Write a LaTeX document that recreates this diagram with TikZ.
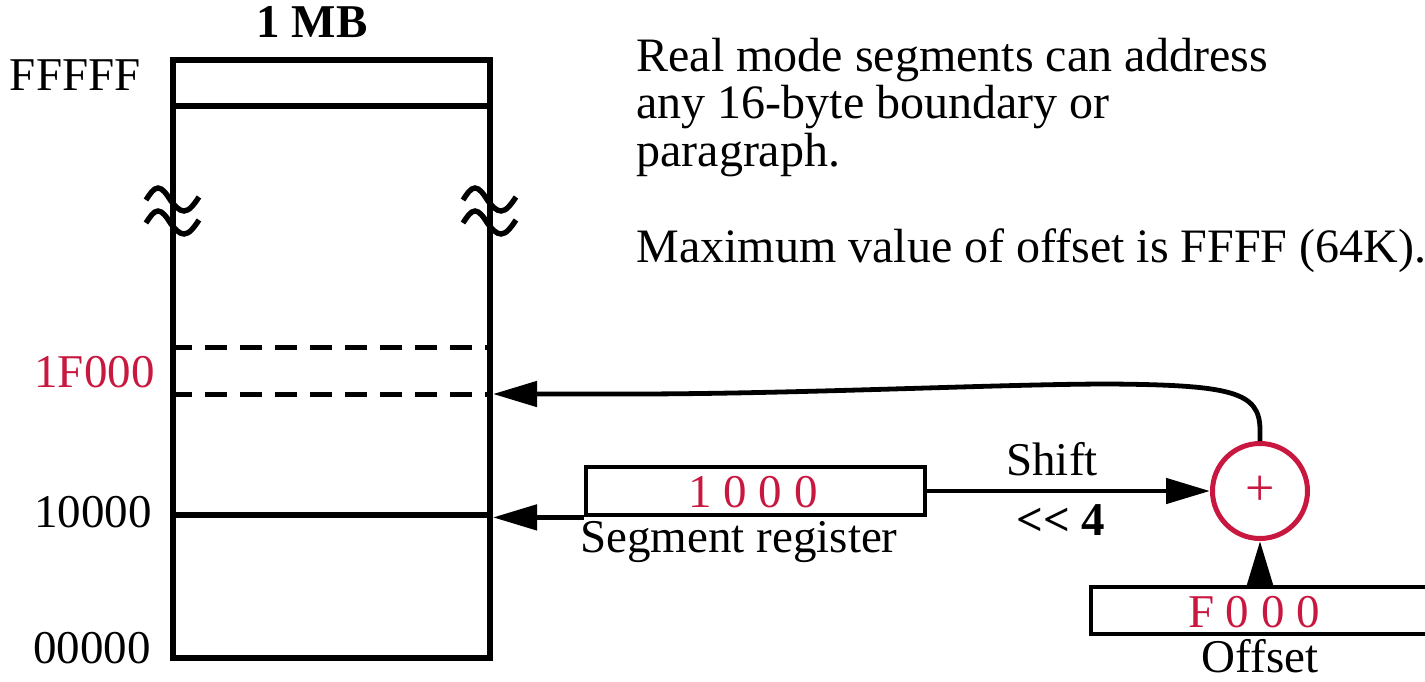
\documentclass[tikz,border=0pt]{standalone}
\usepackage{fontspec}
\setmainfont{Liberation Serif}
\usetikzlibrary{arrows.meta}
\definecolor{crim}{RGB}{200,24,64}
\begin{document}
\begin{tikzpicture}[x=0.5pt,y=-0.5pt,line width=2.4pt,
  tip/.style={-{Triangle[length=22pt,width=12.5pt]}},
  txt/.style={font=\fontsize{23.5}{23.75}\selectfont,inner sep=0pt},
  big/.style={font=\fontsize{24}{24}\selectfont,inner sep=0pt},
  red/.style={txt,text=crim},
  box/.style={draw,inner sep=0pt},
  brk/.style={line width=2.7pt},
  dsh/.style={line width=2.5pt,dash pattern=on 11pt off 6.5pt}]
\useasboundingbox (0,0) rectangle (1425,681);

% memory block
\node[box,line width=3pt,minimum width=158.5pt,minimum height=299pt] (mem) at (331.5,359) {};
\draw[line width=3pt] (mem.west |- 0,106) -- (mem.east |- 0,106);
\draw[dsh] (mem.west |- 0,347) -- (mem.east |- 0,347);
\draw[dsh] (mem.west |- 0,394) -- (mem.east |- 0,394);
\draw[line width=3pt] (mem.west |- 0,515) -- (mem.east |- 0,515);
\foreach \xx in {173,490}{
  \foreach \yy in {0,23}{
    \draw[brk] (\xx-27,200+\yy) sin (\xx-15,188+\yy) cos (\xx-2,201+\yy) sin (\xx+11,211+\yy) cos (\xx+26,197+\yy);
  }
}

% labels
\node[txt,font=\fontsize{23.5}{23.75}\selectfont\bfseries,anchor=base] (mb) at (312,37) {1 MB};
\node[txt,anchor=base east] (lf) at (143,90) {FFFFF};
\node[red,anchor=base east] (l1f) at (157,387) {1F000};
\node[txt,anchor=base east] (l10) at (154,527) {10000};
\node[txt,anchor=base east] (l00) at (153,663) {00000};

% explanation text
\node[big,anchor=base west] (t1) at (634,71) {Real mode segments can address};
\node[big,anchor=base west] (t2) at (634,118) {any 16-byte boundary or};
\node[big,anchor=base west] (t3) at (634,166) {paragraph.};
\node[big,anchor=base west] (t4) at (634,262) {Maximum value of offset is FFFF (64K).};

% segment register
\node[box,minimum width=169.5pt,minimum height=24pt] (seg) at (755.5,491) {};
\node[red,anchor=base] (segv) at (753,507) {1 0 0 0};
\node[txt,anchor=base] (segl) at (739,552) {Segment register};

% adder
\node[draw=crim,circle,line width=2.5pt,minimum size=47.5pt,inner sep=0pt,
      text=crim,font=\fontsize{26}{26}\selectfont] (add) at (1260,491) {+};

% offset
\node[box,minimum width=171pt,minimum height=23.5pt] (off) at (1262,610.5) {};
\node[red,anchor=base] (offv) at (1254,627) {F 0 0 0};
\node[txt,anchor=base] (offl) at (1260,672) {Offset};

% connectors
\draw[tip] (seg.east) -- (add.west);
\node[txt,anchor=base] (sh) at (1052,475) {Shift};
\node[txt,font=\fontsize{23.5}{23.75}\selectfont\bfseries,anchor=base] (sh4) at (1061,535) {{<}{<} 4};
\draw[tip] (seg.south west) -- (seg.south west -| mem.east);
\draw[tip] (add.south |- off.north) -- (add.south);
\draw[tip] (add.north) -- (1260,430) .. controls (1260,392) and (1232,385) .. (1110,384)
  .. controls (1000,384) and (800,394) .. (630,394) -- (mem.east |- 0,394);
\end{tikzpicture}
\end{document}
